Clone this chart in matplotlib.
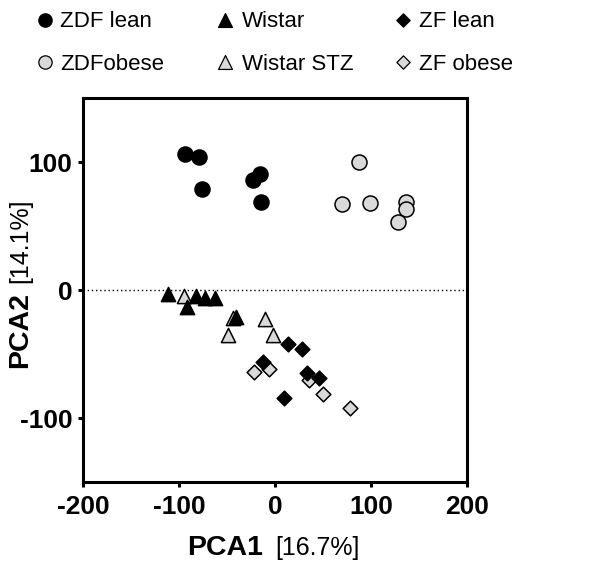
import matplotlib
matplotlib.use("Agg")
import matplotlib.pyplot as plt

plt.rcParams['font.family'] = ['Liberation Sans', 'DejaVu Sans']

# ---- data ----
zdf_lean_x = [-94, -79, -76, -23, -16, -15]
zdf_lean_y = [106, 104, 79, 86, 91, 69]
zdf_obese_x = [87, 70, 99, 136, 136, 128]
zdf_obese_y = [100, 67, 68, 69, 63, 53]
wistar_x = [-111, -92, -82, -73, -62, -41]
wistar_y = [-3, -13, -5, -6, -6, -21]
wistar_stz_x = [-95, -44, -49, -10, -2]
wistar_stz_y = [-5, -22, -35, -23, -35]
zf_lean_x = [14, 28, -13, 9, 33, 46]
zf_lean_y = [-42, -46, -56, -84, -65, -69]
zf_obese_x = [-22, -6, 35, 50, 78]
zf_obese_y = [-64, -62, -70, -81, -92]

legend_labels = ["ZDF lean", "ZDFobese", "Wistar", "Wistar STZ", "ZF lean", "ZF obese"]
x_ticks = [-200, -100, 0, 100, 200]
y_ticks = [-100, 0, 100]

GRAY = '#d9d9d9'

W, H = 600, 562
fig = plt.figure(figsize=(W / 100, H / 100), dpi=100)
ax = fig.add_axes([83 / W, 80 / H, 384 / W, 384 / H])

ax.axhline(0, color='black', lw=1.0, ls=(0, (1, 2)), zorder=1)

ew = 1.1
ax.scatter(zdf_lean_x, zdf_lean_y, s=117, marker='o', c='black', edgecolors='black', linewidths=ew, zorder=3)
ax.scatter(zdf_obese_x, zdf_obese_y, s=117, marker='o', c=GRAY, edgecolors='black', linewidths=ew, zorder=3)
ax.scatter(wistar_stz_x, wistar_stz_y, s=105, marker='^', c=GRAY, edgecolors='black', linewidths=ew, zorder=3)
ax.scatter(wistar_x, wistar_y, s=105, marker='^', c='black', edgecolors='black', linewidths=ew, zorder=3)
ax.scatter(zf_obese_x, zf_obese_y, s=56, marker='D', c=GRAY, edgecolors='black', linewidths=ew, zorder=3)
ax.scatter(zf_lean_x, zf_lean_y, s=56, marker='D', c='black', edgecolors='black', linewidths=ew, zorder=3)

ax.set_xlim(-200, 200)
ax.set_ylim(-150, 150)
ax.set_xticks(x_ticks)
ax.set_yticks(y_ticks)
ax.set_xticklabels([str(v) for v in x_ticks], fontsize=19, fontweight='bold')
ax.set_yticklabels([str(v) for v in y_ticks], fontsize=19, fontweight='bold')
ax.tick_params(axis='both', direction='out', length=3.4, width=2.2, color='black')
ax.tick_params(axis='x', pad=6)
ax.tick_params(axis='y', pad=4)
for sp in ax.spines.values():
    sp.set_linewidth(2.2)
    sp.set_color('black')

# ---- overlay for legend and axis titles (pixel coordinates) ----
ov = fig.add_axes([0, 0, 1, 1], zorder=5)
ov.set_xlim(0, W)
ov.set_ylim(H, 0)
ov.axis('off')
ov.patch.set_alpha(0)

leg_markers = ['o', 'o', '^', '^', 'D', 'D']
leg_colors = ['black', GRAY, 'black', GRAY, 'black', GRAY]
leg_sizes = [92, 92, 100, 100, 46, 46]
mk_x = [45, 45, 225, 225, 403, 403]
mk_y = [20, 62, 20, 62, 20, 62]
tx_x = [60, 60, 242, 242, 419, 419]
tx_y = [27, 70, 27, 70, 27, 70]
for i, lab in enumerate(legend_labels):
    ov.scatter([mk_x[i]], [mk_y[i]], s=leg_sizes[i], marker=leg_markers[i], c=leg_colors[i],
               edgecolors='black', linewidths=0.9, clip_on=False)
    ov.text(tx_x[i], tx_y[i], lab, fontsize=16, ha='left', va='baseline')

ov.text(187, 555, "PCA1", fontsize=20.5, fontweight='bold', ha='left', va='baseline')
ov.text(275, 555, "[16.7%]", fontsize=18, ha='left', va='baseline')
ov.text(27, 368, "PCA2", fontsize=20.5, fontweight='bold', ha='left', va='baseline',
        rotation=90, rotation_mode='anchor')
ov.text(27, 283, "[14.1%]", fontsize=18, ha='left', va='baseline',
        rotation=90, rotation_mode='anchor')

fig.savefig('out.png', dpi=100)
